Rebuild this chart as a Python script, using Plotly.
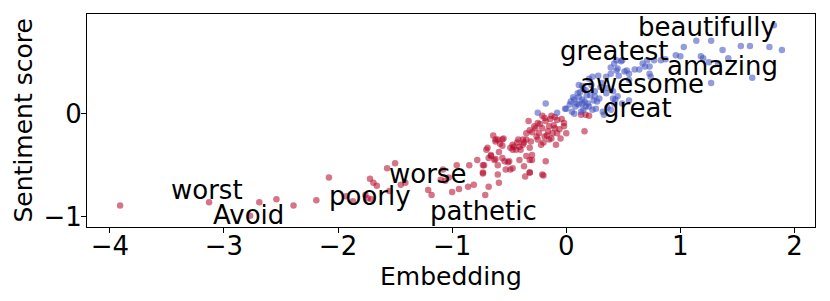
import plotly.graph_objects as go

# Negative-sentiment words (red)
neg_x = [-3.91, -3.13, -2.77, -2.69, -2.54, -2.39, -2.19, -2.08,
         -1.93, -1.87, -1.76, -1.71, -1.74, -1.72, -1.69, -1.66, -1.55, -1.57, -1.50,
         -1.45, -1.41, -1.21, -1.18, -1.10, -1.06, -1.03, -1.08, -1.00, -0.96, -0.94,
         -0.86, -0.85, -0.81, -0.78, -0.73, -0.73, -0.71, -0.69, -0.68, -0.66, -0.62,
         -0.60, -0.55, -0.60, -0.59, -0.54, -0.51, -0.49, -0.46, -0.49, -0.37, -0.32,
         -0.20, -0.35, -0.64, -0.62, -0.58,
         -0.21, -0.13, -0.08, -0.02, 0.00, -0.05, -0.09, -0.33, -0.25, -0.18, -0.27,
         -0.32, -0.21, -0.15, -0.11, -0.16, -0.24, -0.30, -0.35, -0.12, -0.19, -0.25,
         -0.31, -0.37, -0.41, -0.44, -0.47, -0.40, -0.32, -0.15, -0.08, -0.06, -0.22,
         -0.30, -0.35, -0.41, -0.32, -0.30, -0.18, -0.21, -0.32, -0.36, -0.47, -0.53,
         -0.50, -0.56, -0.60, -0.63, -0.72, -0.73, -0.70, -0.62, -0.56, -0.56, -0.66,
         -0.68, -0.59, 0.16, 0.13, 0.17, 0.20, -0.47, -0.43, -0.38,
         -0.19, -0.14, -0.10, -0.04, -0.02, -0.28, -0.23, -0.17, -0.13, -0.26, -0.20,
         -0.10, -0.38, -0.42]
neg_y = [-0.89, -0.86, -0.99, -0.86, -0.83, -0.89, -0.84, -0.62,
         -0.80, -0.85, -0.79, -0.83, -0.82, -0.63, -0.67, -0.70, -0.75, -0.53, -0.48,
         -0.69, -0.67, -0.74, -0.79, -0.64, -0.65, -0.62, -0.54, -0.76, -0.50, -0.73,
         -0.71, -0.50, -0.69, -0.45, -0.50, -0.57, -0.79, -0.33, -0.71, -0.41, -0.44,
         -0.25, -0.24, -0.59, -0.67, -0.46, -0.47, -0.33, -0.32, -0.54, -0.51, -0.57,
         -0.60, -0.25, -0.21, -0.27, -0.29,
         -0.02, -0.02, -0.06, -0.12, -0.19, -0.24, -0.30, -0.07, -0.09, -0.07, -0.14,
         -0.16, -0.14, -0.12, -0.11, -0.17, -0.19, -0.18, -0.19, -0.19, -0.22, -0.25,
         -0.27, -0.28, -0.32, -0.35, -0.35, -0.35, -0.33, -0.25, -0.19, -0.15, -0.30,
         -0.40, -0.41, -0.45, -0.45, -0.45, -0.46, -0.59, -0.57, -0.61, -0.53, -0.54,
         -0.46, -0.43, -0.50, -0.45, -0.50, -0.58, -0.35, -0.25, -0.25, -0.31, -0.40,
         -0.43, -0.37, -0.17, -0.01, -0.01, -0.02, -0.30, -0.28, -0.25,
         -0.04, -0.05, -0.03, -0.05, -0.09, -0.12, -0.10, -0.21, -0.24, -0.22, -0.28,
         -0.14, -0.30, -0.25]

# Positive-sentiment words (blue)
pos_x = [-0.18, -0.25, -0.08, -0.01, 0.00, 0.04, 0.07, 0.09, 0.08, 0.11, 0.14, 0.11,
         0.14, 0.17, 0.15, 0.20, 0.23, 0.26, 0.27, 0.32, 0.33, 0.36, 0.39, 0.42,
         0.41, 0.43, 0.45, 0.49, 0.55, 0.29, 0.25, 0.21, 0.17, 0.14, 0.11, 0.20,
         0.23, 0.28, 0.35, 0.39, 0.44, 0.51, 0.55, 0.60, 0.64, 0.69, 0.73, 0.67,
         0.71, 0.77, 0.83, 0.87, 0.96, 1.00, 1.03, 1.14, 1.27, 1.18, 1.20, 1.25,
         1.33, 1.27, 1.37, 1.42, 1.53, 1.61, 1.63, 1.78, 1.89, 1.82, 0.73, 0.74,
         0.53, 0.39, 0.45, 0.48, 0.44, 0.49, 0.42, 0.46, 0.55, 0.35, 0.41,
         0.05, 0.07, 0.13, 0.16, 0.19, 0.03, 0.10, 0.25, 0.30, 0.06, 0.12, 0.18,
         0.22, 0.31, 0.36, 0.24, 0.15]
pos_y = [0.10, 0.01, 0.01, 0.05, 0.05, 0.12, 0.14, 0.10, 0.07, 0.09, 0.14, 0.16,
         0.10, 0.07, 0.04, 0.07, 0.04, 0.05, 0.12, 0.02, -0.01, 0.06, 0.04, 0.10,
         0.15, 0.14, 0.17, 0.10, 0.13, 0.15, 0.17, 0.18, 0.23, 0.27, 0.28, 0.34,
         0.36, 0.37, 0.36, 0.39, 0.42, 0.41, 0.39, 0.43, 0.43, 0.46, 0.46, 0.49,
         0.52, 0.52, 0.52, 0.53, 0.57, 0.56, 0.65, 0.71, 0.71, 0.56, 0.54, 0.50,
         0.49, 0.30, 0.62, 0.54, 0.66, 0.66, 0.35, 0.65, 0.62, 0.86, 0.39, 0.36,
         0.42, 0.45, 0.44, 0.51, 0.52, 0.52, 0.49, 0.37, 0.33, 0.20, 0.22,
         0.02, 0.00, 0.02, 0.12, 0.10, 0.09, 0.20, 0.22, 0.26, 0.16, 0.21, 0.18,
         0.28, 0.30, 0.25, 0.13, 0.24]

# Labelled words: text, x (left edge), y (baseline)
words = ["worst", "Avoid", "poorly", "worse", "pathetic",
         "greatest", "beautifully", "amazing", "awesome", "great"]
word_x = [-3.46, -3.10, -2.08, -1.55, -1.19, -0.055, 0.63, 0.88, 0.12, 0.32]
word_y = [-0.83, -1.07, -0.89, -0.67, -1.03, 0.52, 0.76, 0.38, 0.20, -0.03]

x_ticks = [-4, -3, -2, -1, 0, 1, 2]
y_ticks = [-1, 0]

FONT = "DejaVu Sans"
RED = "rgba(180,4,38,0.55)"
BLUE = "rgba(59,76,192,0.55)"

fig = go.Figure()
fig.add_trace(go.Scatter(x=neg_x, y=neg_y, mode="markers",
                         marker=dict(size=6.5, color=RED, line=dict(width=0)),
                         showlegend=False, hoverinfo="skip"))
fig.add_trace(go.Scatter(x=pos_x, y=pos_y, mode="markers",
                         marker=dict(size=6.5, color=BLUE, line=dict(width=0)),
                         showlegend=False, hoverinfo="skip"))

for w, wx, wy in zip(words, word_x, word_y):
    fig.add_annotation(x=wx, y=wy, text=w, showarrow=False,
                       xanchor="left", yanchor="bottom", yshift=-8, xshift=-2,
                       font=dict(family=FONT, size=26, color="black"))

# Axis titles
fig.add_annotation(xref="paper", yref="paper", x=0.5, y=0, text="Embedding",
                   showarrow=False, xanchor="center", yanchor="middle", yshift=-49,
                   font=dict(family=FONT, size=25, color="black"))
fig.add_annotation(xref="paper", yref="paper", x=0, y=0.5, text="Sentiment score",
                   showarrow=False, xanchor="center", yanchor="middle", xshift=-64,
                   textangle=-90, borderpad=0,
                   font=dict(family=FONT, size=25, color="black"))

axis_common = dict(showline=True, mirror=True, linecolor="black", linewidth=1,
                   ticks="outside", ticklen=5, tickcolor="black",
                   showgrid=False, zeroline=False, automargin=False,
                   tickfont=dict(family=FONT, size=26, color="black"))

fig.update_layout(
    width=822, height=293,
    margin=dict(l=79, r=15, t=6, b=74),
    paper_bgcolor="white", plot_bgcolor="white",
    xaxis=dict(range=[-4.2, 2.18], tickvals=x_ticks,
               ticktext=["\u2212" + str(-t) if t < 0 else str(t) for t in x_ticks],
               ticklabelstandoff=-9,
               **axis_common),
    yaxis=dict(range=[-1.10, 0.97], tickvals=y_ticks,
               ticktext=["\u2212" + str(-t) if t < 0 else str(t) for t in y_ticks],
               ticklabelstandoff=-6,
               **axis_common),
)

fig.write_html("out.html")
